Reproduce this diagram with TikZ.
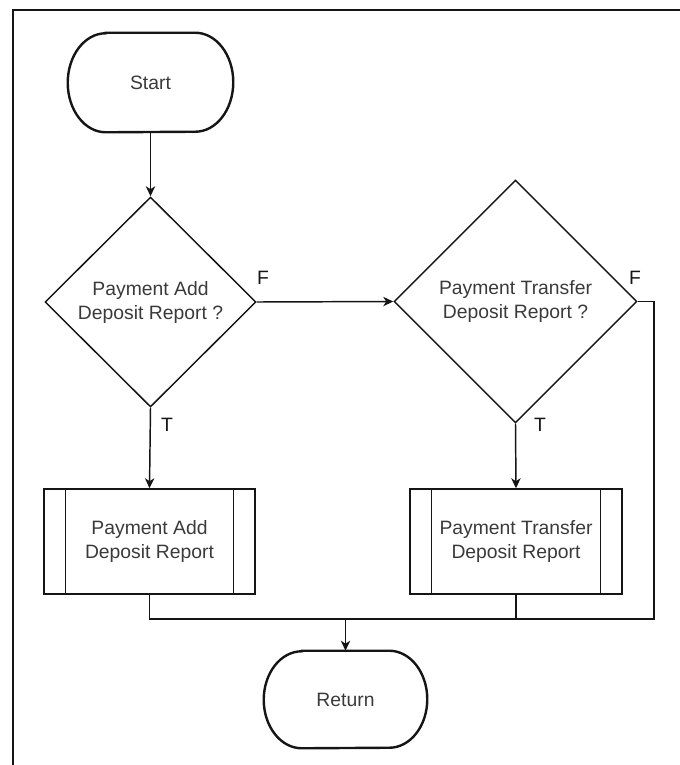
\documentclass[tikz,border=0pt]{standalone}
\usepackage{fontspec}
\setmainfont{Liberation Sans}
\usetikzlibrary{shapes.geometric,arrows.meta}
\definecolor{ink}{HTML}{151515}
\definecolor{txt}{HTML}{3A3A3A}
\begin{document}
\begin{tikzpicture}[x=0.75pt,y=0.75pt,
  every node/.style={font=\fontsize{14.5}{18}\selectfont, text=txt, align=center, inner sep=0pt},
  flow/.style={draw=ink, line width=1.1pt},
  arrow/.style={flow, -{Stealth[length=7.5pt,width=7pt,inset=2.2pt]}},
  termline/.style={draw=ink, line width=1.8pt},
  decision/.style={diamond, draw=ink, line width=1.1pt, aspect=1},
  subproc/.style={rectangle, draw=ink, line width=1.1pt,
    minimum width=#1, minimum height=78.75pt,
    path picture={
      \draw[ink, line width=1.1pt]
        ([xshift=16.25pt]path picture bounding box.north west) --
        ([xshift=16.25pt]path picture bounding box.south west)
        ([xshift=-16pt]path picture bounding box.north east) --
        ([xshift=-16pt]path picture bounding box.south east);}},
  lbl/.style={text=ink}]

\useasboundingbox (0,0) rectangle (680,-765);

% outer frame
\draw[ink, line width=1.5pt] (12.5,-765) -- (12.5,-10) -- (680,-10);

% terminators (outline drawn below)
\node[minimum width=123.75pt, minimum height=74.25pt] (start) at (150.5,-82.5) {Start};
\node[minimum width=122.25pt, minimum height=72.75pt] (ret) at (345.5,-699.5) {Return};

\draw[termline] ([xshift=28.5pt]start.north west) -- ([xshift=-28.5pt]start.north east)
  arc[start angle=90, end angle=-90, x radius=28.5pt, y radius=37.125pt]
  -- ([xshift=28.5pt]start.south west)
  arc[start angle=270, end angle=90, x radius=28.5pt, y radius=37.125pt] -- cycle;
\draw[termline] ([xshift=28.5pt]ret.north west) -- ([xshift=-28.5pt]ret.north east)
  arc[start angle=90, end angle=-90, x radius=28.5pt, y radius=36.375pt]
  -- ([xshift=28.5pt]ret.south west)
  arc[start angle=270, end angle=90, x radius=28.5pt, y radius=36.375pt] -- cycle;

% decisions
\node[decision, minimum width=158.25pt, minimum height=157.5pt] (d1) at (150.5,-302)
  {Payment Add\\Deposit Report ?};
\node[decision, minimum width=182.25pt, minimum height=182.25pt] (d2) at (515.5,-301.5)
  {Payment Transfer\\Deposit Report ?};

% predefined processes
\node[subproc=158.25pt] (b1) at (149.5,-541.5) {Payment Add\\Deposit Report};
\node[subproc=159pt] (b2) at (516,-541.5) {Payment Transfer\\Deposit Report};

% branch labels
\node[lbl] (f1) at (263,-278) {F};
\node[lbl] (f2) at (635,-278) {F};
\node[lbl] (t1) at (167,-425) {T};
\node[lbl] (t2) at (540,-425) {T};

% connectors
\coordinate (m) at (345.5,-619);
\coordinate (rc) at (654,-619);

\draw[arrow] (start.south) -- (d1.north);
\draw[arrow] (d1.east) -- (d2.west);
\draw[arrow] (d1.south) -- (b1.north);
\draw[arrow] (d2.south) -- (b2.north);
\draw[flow] (d2.east) -| (rc) -- (m);
\draw[flow] (b1.south) |- (m);
\draw[flow] (b2.south) -- (b2.south |- m);
\draw[arrow] (m) -- (ret.north);
\end{tikzpicture}
\end{document}
